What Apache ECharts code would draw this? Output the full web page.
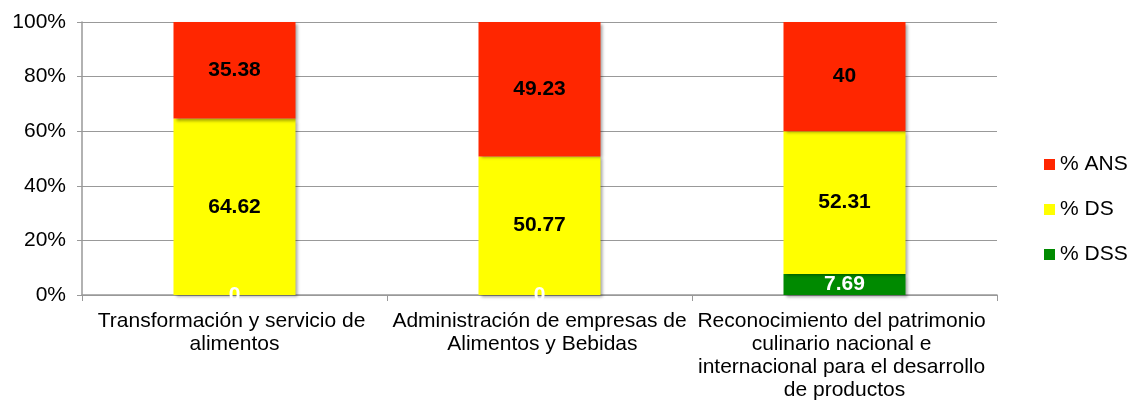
<!DOCTYPE html>
<html>
<head>
<meta charset="utf-8">
<script src="https://cdn.jsdelivr.net/npm/echarts@6/dist/echarts.min.js"></script>
<style>
  html, body { margin: 0; padding: 0; background: #fff; }
  #chart { width: 1130px; height: 407px; }
</style>
</head>
<body>
<div id="chart"></div>
<script>
var categories = [
  'Transformación y servicio de alimentos',
  'Administración de empresas de Alimentos y Bebidas',
  'Reconocimiento del patrimonio culinario nacional e internacional para el desarrollo de productos'
];
var dssValues = [0, 0, 7.69];
var dsValues = [64.62, 50.77, 52.31];
var ansValues = [35.38, 49.23, 40];
var yTicks = [0, 20, 40, 60, 80, 100];

var font = '"Liberation Sans", Arial, sans-serif';
var shadow = {
  shadowColor: 'rgba(0,0,0,0.35)',
  shadowBlur: 3,
  shadowOffsetX: 2,
  shadowOffsetY: 2
};

function makeSeries(name, data, color, labelColor) {
  return {
    name: name,
    type: 'bar',
    stack: 'total',
    barWidth: '40%',
    data: data,
    itemStyle: Object.assign({ color: color }, shadow),
    label: {
      show: true,
      position: 'inside',
      color: labelColor,
      fontFamily: font,
      fontWeight: 'bold',
      fontSize: 21
    },
    emphasis: { disabled: true }
  };
}

var chart = echarts.init(document.getElementById('chart'));
var option = {
  animation: false,
  textStyle: { fontFamily: font },
  grid: { left: 82, right: 133, top: 22, bottom: 112, containLabel: false },
  legend: {
    orient: 'vertical',
    left: 1044,
    top: 154,
    padding: 0,
    itemWidth: 11,
    itemHeight: 11,
    itemGap: 24,
    itemTextGap: 4,
    icon: 'rect',
    data: ['% ANS', '% DS', '% DSS'],
    textStyle: { fontFamily: font, fontSize: 21, lineHeight: 21, color: '#000' }
  },
  xAxis: {
    type: 'category',
    data: categories,
    axisLine: { lineStyle: { color: '#999', width: 1.5 } },
    axisTick: { show: true, length: 6, lineStyle: { color: '#999' } },
    axisLabel: {
      interval: 0,
      color: '#000',
      fontFamily: font,
      fontSize: 21,
      lineHeight: 23,
      width: 304,
      overflow: 'break',
      margin: 15
    }
  },
  yAxis: {
    type: 'value',
    min: 0,
    max: 100,
    interval: 20,
    axisLine: { show: true, lineStyle: { color: '#999', width: 1.5 } },
    axisTick: { show: true, length: 5, inside: false, lineStyle: { color: '#999' } },
    splitLine: { lineStyle: { color: '#999', width: 1 } },
    axisLabel: {
      color: '#000',
      fontFamily: font,
      fontSize: 21,
      margin: 16,
      formatter: function (v) { return yTicks.indexOf(v) >= 0 ? v + '%' : ''; }
    }
  },
  series: [
    makeSeries('% DSS', dssValues, '#008a00', '#fff'),
    makeSeries('% DS', dsValues, '#ffff00', '#000'),
    makeSeries('% ANS', ansValues, '#ff2600', '#000')
  ]
};
option.series[0].label.formatter = function (p) { return p.value; };
chart.setOption(option);
</script>
</body>
</html>
